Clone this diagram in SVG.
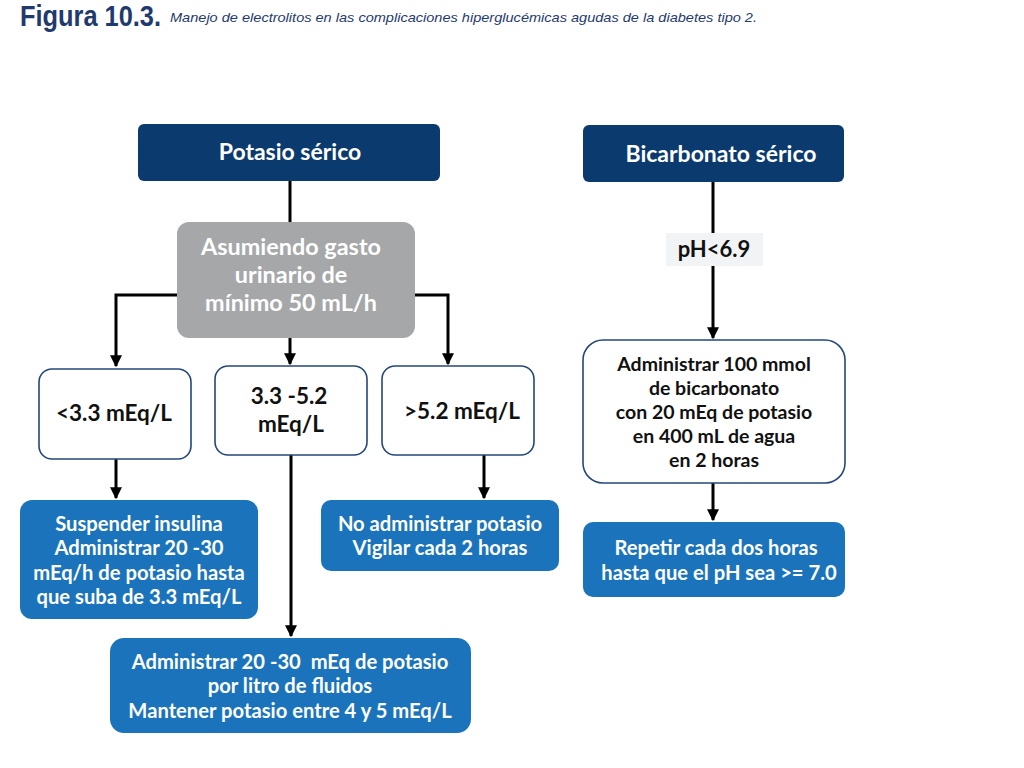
<svg xmlns="http://www.w3.org/2000/svg" width="1024" height="768" viewBox="0 0 1024 768">
<defs>
<marker id="ah" viewBox="0 0 10 10" refX="9" refY="5" markerWidth="4" markerHeight="4" markerUnits="strokeWidth" orient="auto">
<path d="M0,0 L10,5 L0,10 z" fill="#000"/>
</marker>
<style>
.t{font-family:Lato,"Open Sans","Liberation Sans",sans-serif;font-weight:bold;text-anchor:middle}
.w{fill:#fff}
.k{fill:#111}
.navy{fill:#0b3a6e}
.gray{fill:#a6a7a9}
.blue{fill:#1b74bb}
.wb{fill:#fff;stroke:#24477a;stroke-width:1.6}
.c{stroke:#000;stroke-width:3;fill:none}
</style>
</defs>
<rect width="1024" height="768" fill="#fff"/>
<g id="title">
<text x="20" y="26" font-family="'Liberation Sans',Arial,sans-serif" font-weight="bold" font-size="29" fill="#1f3a6e" textLength="141" lengthAdjust="spacingAndGlyphs">Figura 10.3.</text>
<text x="170" y="22" font-family="'Liberation Sans',Arial,sans-serif" font-style="italic" font-size="13" fill="#1f3a6e" textLength="587" lengthAdjust="spacingAndGlyphs">Manejo de electrolitos en las complicaciones hiperglucémicas agudas de la diabetes tipo 2.</text>
</g>
<g id="connectors">
<line class="c" x1="290" y1="181" x2="290" y2="223"/>
<polyline class="c" points="178,295 116,295 116,366" marker-end="url(#ah)"/>
<polyline class="c" points="414,295 448,295 448,364" marker-end="url(#ah)"/>
<line class="c" x1="290" y1="338" x2="290" y2="364" marker-end="url(#ah)"/>
<line class="c" x1="116" y1="459" x2="116" y2="498" marker-end="url(#ah)"/>
<line class="c" x1="291" y1="455" x2="291" y2="636" marker-end="url(#ah)"/>
<line class="c" x1="484" y1="455" x2="484" y2="498" marker-end="url(#ah)"/>
<line class="c" x1="713" y1="182" x2="713" y2="233"/>
<line class="c" x1="713" y1="266" x2="713" y2="338" marker-end="url(#ah)"/>
<line class="c" x1="713" y1="483" x2="713" y2="520" marker-end="url(#ah)"/>
</g>
<g id="potasio">
<rect class="navy" x="138" y="124" width="302" height="57" rx="6"/>
<text class="t w" x="290" y="160" font-size="23">Potasio sérico</text>
</g>
<g id="asumiendo">
<rect class="gray" x="177" y="222" width="238" height="116" rx="12"/>
<text class="t w" font-size="23.4"><tspan x="291" y="255">Asumiendo gasto</tspan><tspan x="291" y="283">urinario de</tspan><tspan x="291" y="311">mínimo 50 mL/h</tspan></text>
</g>
<g id="menor33">
<rect class="wb" x="39" y="369" width="152" height="90" rx="13"/>
<text class="t k" x="114" y="421" font-size="22.5">&lt;3.3 mEq/L</text>
</g>
<g id="rango">
<rect class="wb" x="215" y="366" width="152" height="89" rx="13"/>
<text class="t k" font-size="22.5"><tspan x="289" y="404">3.3 -5.2</tspan><tspan x="291" y="432">mEq/L</tspan></text>
</g>
<g id="mayor52">
<rect class="wb" x="382" y="366" width="152" height="89" rx="13"/>
<text class="t k" x="462" y="419" font-size="22.5">&gt;5.2 mEq/L</text>
</g>
<g id="suspender">
<rect class="blue" x="20" y="500" width="238" height="119" rx="12"/>
<text class="t w" font-size="20.2"><tspan x="139" y="531">Suspender insulina</tspan><tspan x="139" y="555">Administrar 20 -30</tspan><tspan x="139" y="580">mEq/h de potasio hasta</tspan><tspan x="139" y="604">que suba de 3.3 mEq/L</tspan></text>
</g>
<g id="noadministrar">
<rect class="blue" x="321" y="500" width="238" height="71" rx="10"/>
<text class="t w" font-size="20.2"><tspan x="440" y="531">No administrar potasio</tspan><tspan x="440" y="555">Vigilar cada 2 horas</tspan></text>
</g>
<g id="administrar2030">
<rect class="blue" x="110" y="638" width="361" height="95" rx="14"/>
<text class="t w" font-size="20.2"><tspan x="290" y="669" xml:space="preserve">Administrar 20 -30  mEq de potasio</tspan><tspan x="290" y="693">por litro de fluidos</tspan><tspan x="290" y="718">Mantener potasio entre 4 y 5 mEq/L</tspan></text>
</g>
<g id="bicarbonato">
<rect class="navy" x="583" y="125" width="261" height="57" rx="6"/>
<text class="t w" x="721" y="162" font-size="23">Bicarbonato sérico</text>
</g>
<g id="ph">
<rect x="666" y="233" width="97" height="33" fill="#f2f3f4"/>
<text class="t k" x="714" y="257" font-size="22">pH&lt;6.9</text>
</g>
<g id="administrar100">
<rect class="wb" x="583" y="340" width="262" height="143" rx="20"/>
<text class="t k" font-size="19.5"><tspan x="714" y="371">Administrar 100 mmol</tspan><tspan x="714" y="395">de bicarbonato</tspan><tspan x="714" y="419">con 20 mEq de potasio</tspan><tspan x="714" y="443">en 400 mL de agua</tspan><tspan x="714" y="467">en 2 horas</tspan></text>
</g>
<g id="repetir">
<rect class="blue" x="583" y="522" width="262" height="75" rx="10"/>
<text class="t w" font-size="20.2"><tspan x="716" y="555">Repetir cada dos horas</tspan><tspan x="719" y="580">hasta que el pH sea &gt;= 7.0</tspan></text>
</g>
</svg>
